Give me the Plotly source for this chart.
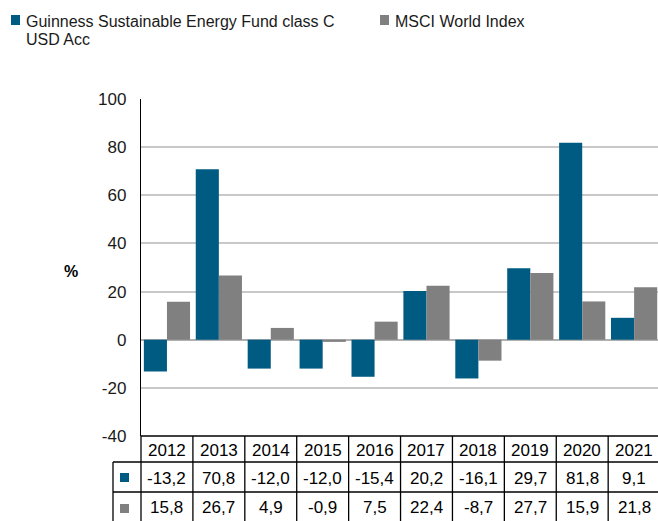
import plotly.graph_objects as go

years = ["2012", "2013", "2014", "2015", "2016", "2017", "2018", "2019", "2020", "2021"]
fund_name = "Guinness Sustainable Energy Fund class C USD Acc"
index_name = "MSCI World Index"
fund = [-13.2, 70.8, -12.0, -12.0, -15.4, 20.2, -16.1, 29.7, 81.8, 9.1]
index = [15.8, 26.7, 4.9, -0.9, 7.5, 22.4, -8.7, 27.7, 15.9, 21.8]
y_ticks = [-40, -20, 0, 20, 40, 60, 80, 100]
y_tick_labels = [str(v) for v in y_ticks]

FUND_COLOR = "#005b82"
INDEX_COLOR = "#808080"
FONT = "Liberation Sans, Arial, sans-serif"

W, H = 658, 521
PL, PR, PT, PB = 141, 658, 99, 436
L, R, T, B = PL, W - PR, PT, H - PB
PW, PH = PR - PL, PB - PT


def px(xp):
    return (xp - PL) / PW


def py(yp):
    return (PB - yp) / PH


def fmt(v):
    return f"{v:.1f}".replace(".", ",")


xs = list(range(len(years)))

fig = go.Figure()
fig.add_trace(go.Bar(x=xs, y=fund, name=fund_name, marker_color=FUND_COLOR,
                     marker_line_width=0, showlegend=False))
fig.add_trace(go.Bar(x=xs, y=index, name=index_name, marker_color=INDEX_COLOR,
                     marker_line_width=0, showlegend=False))

shapes = []
annotations = []
line = dict(color="black", width=1.3)

# table grid
top, r1, r2, bot = PB, 462, 492, 530
shapes.append(dict(type="line", xref="paper", yref="paper", x0=0, x1=1.01, y0=py(top), y1=py(top), line=line))
for yy in (r1, r2):
    shapes.append(dict(type="line", xref="paper", yref="paper", x0=px(113), x1=1.01, y0=py(yy), y1=py(yy), line=line))
shapes.append(dict(type="line", xref="paper", yref="paper", x0=px(113), x1=px(113), y0=py(r1), y1=py(bot), line=line))
shapes.append(dict(type="line", xref="paper", yref="paper", x0=0, x1=0, y0=py(top), y1=py(bot), line=line))
for i in range(len(years)):
    shapes.append(dict(type="line", xref="x", yref="paper", x0=i + 0.5, x1=i + 0.5, y0=py(top), y1=py(bot), line=line))

# table markers
for (y0, y1), c in (((473, 482), FUND_COLOR), ((504, 513), INDEX_COLOR)):
    shapes.append(dict(type="rect", xref="paper", yref="paper", x0=px(120), x1=px(129), y0=py(y1), y1=py(y0),
                       fillcolor=c, line_width=0))

# legend markers
for (x0, x1), c in (((11, 20), FUND_COLOR), ((380, 389), INDEX_COLOR)):
    shapes.append(dict(type="rect", xref="paper", yref="paper", x0=px(x0), x1=px(x1), y0=py(25), y1=py(15),
                       fillcolor=c, line_width=0))

tfont = dict(family=FONT, size=17, color="black")
for i, yr in enumerate(years):
    annotations.append(dict(x=i, y=py((top + r1) / 2 + 1), xref="x", yref="paper", text=yr, showarrow=False,
                            font=tfont, xanchor="center", yanchor="middle"))
    annotations.append(dict(x=i, y=py((r1 + r2) / 2 + 1), xref="x", yref="paper", text=fmt(fund[i]), showarrow=False,
                            font=tfont, xanchor="center", yanchor="middle"))
    annotations.append(dict(x=i, y=py((r2 + 521) / 2 + 1), xref="x", yref="paper", text=fmt(index[i]), showarrow=False,
                            font=tfont, xanchor="center", yanchor="middle"))

lfont = dict(family=FONT, size=16, color="#1a1a1a")
annotations.append(dict(x=px(24), y=py(21), xref="paper", yref="paper", text="Guinness Sustainable Energy Fund class C",
                        showarrow=False, font=lfont, xanchor="left", yanchor="middle"))
annotations.append(dict(x=px(24), y=py(39), xref="paper", yref="paper", text="USD Acc",
                        showarrow=False, font=lfont, xanchor="left", yanchor="middle"))
annotations.append(dict(x=px(393), y=py(21), xref="paper", yref="paper", text=index_name,
                        showarrow=False, font=lfont, xanchor="left", yanchor="middle"))
annotations.append(dict(x=px(71), y=py(271), xref="paper", yref="paper", text="<b>%</b>",
                        showarrow=False, font=dict(family=FONT, size=16, color="black"), xanchor="center", yanchor="middle"))

fig.update_layout(
    width=W, height=H,
    margin=dict(l=L, r=R, t=T, b=B, pad=0),
    paper_bgcolor="white", plot_bgcolor="white",
    barmode="group", bargap=0.11, bargroupgap=0,
    font=dict(family=FONT, size=16, color="#1a1a1a"),
    xaxis=dict(range=[-0.5, 9.46], showticklabels=False, showgrid=False, zeroline=False, showline=False,
               ticks="", fixedrange=True),
    yaxis=dict(range=[-40, 100], tickvals=y_ticks, ticktext=y_tick_labels, showgrid=True,
               gridcolor="#c8c8c8", gridwidth=1.5,
               zeroline=True, zerolinecolor="#b0b0b0", zerolinewidth=1.5,
               showline=True, linecolor="black", linewidth=1.3, ticks="", ticklabelstandoff=10,
               tickfont=dict(family=FONT, size=17, color="#1a1a1a")),
    shapes=shapes, annotations=annotations,
)

fig.write_html(
    "out.html",
    config={"displayModeBar": False},
    post_script="document.documentElement.style.overflow='hidden';"
                "document.body.style.margin='0';document.body.style.overflow='hidden';",
)
